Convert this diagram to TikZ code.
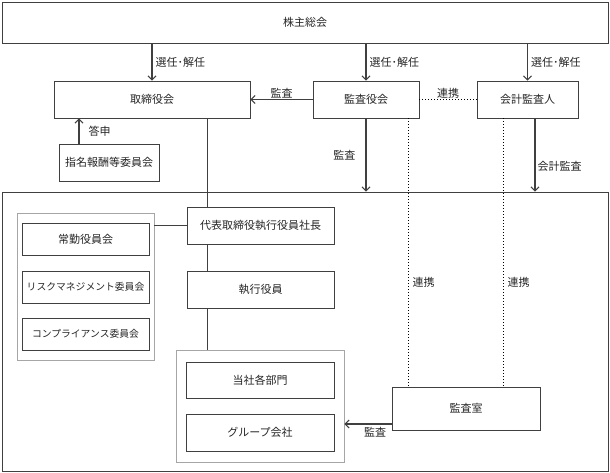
\documentclass[tikz,border=0pt]{standalone}
\usepackage{fontspec}
\setmainfont{Noto Sans CJK JP}
\usetikzlibrary{arrows.meta}
\definecolor{boxc}{HTML}{404040}
\definecolor{grayc}{HTML}{A6A6A6}
\definecolor{txt}{HTML}{262626}
\begin{document}
\begin{tikzpicture}[x=1pt,y=-1pt,
  every node/.style={font=\fontsize{11}{13}\selectfont, text=txt},
  box/.style={draw=boxc, line width=0.8pt, fill=white, inner sep=0pt, minimum height=37pt},
  narrow/.style={font=\fontsize{9.8}{12}\selectfont},
  grp/.style={draw=grayc, line width=0.8pt, inner sep=0pt},
  arr/.style={-{Straight Barb[length=4pt,width=8pt]}, line width=1.1pt, draw=boxc},
  lnk/.style={dotted, line width=1pt, draw=black},
  plain/.style={line width=0.8pt, draw=boxc},
  lbl/.style={inner sep=1pt}]
\useasboundingbox (0,0) rectangle (610,473);
% helper coordinates for line positions
\coordinate (sp) at (207,0);
\coordinate (d1) at (408,0);
\coordinate (d2) at (503,0);
\coordinate (ka) at (535,0);
\coordinate (ts) at (79,0);
% boxes
\node[box, minimum width=606pt, minimum height=41pt] (sh) at (305,22.5) {株主総会};
\node[box, minimum width=196pt] (tori) at (152,99.5) {取締役会};
\node[box, minimum width=106pt] (kansa) at (366,99.5) {監査役会};
\node[box, minimum width=101pt] (kaikei) at (527.5,99.5) {会計監査人};
\node[box, minimum width=100pt] (shimei) at (109,162.5) {指名報酬等委員会};
\node[draw=boxc, line width=0.8pt, inner sep=0pt, minimum width=606pt, minimum height=279pt] (outer) at (305,331.5) {};
\node[grp, minimum width=137pt, minimum height=147pt] (g1) at (85.5,286.5) {};
\node[box, minimum width=127pt, minimum height=32pt] (joukin) at (85.5,239) {常勤役員会};
\node[box, narrow, minimum width=127pt, minimum height=32pt] (risk) at (85.5,287) {リスクマネジメント委員会};
\node[box, narrow, minimum width=127pt, minimum height=32pt] (comp) at (85.5,334) {コンプライアンス委員会};
\node[box, minimum width=147pt] (daihyo) at (260.5,225.5) {代表取締役執行役員社長};
\node[box, minimum width=147pt] (shikkou) at (260.5,289.5) {執行役員};
\node[grp, minimum width=168pt, minimum height=112pt] (g2) at (260,406) {};
\node[box, minimum width=148pt, minimum height=36pt] (tousha) at (260,380) {当社各部門};
\node[box, minimum width=148pt] (group) at (260,432.5) {グループ会社};
\node[box, minimum width=148pt, minimum height=43pt] (shitsu) at (466,408.5) {監査室};
% election arrows
\draw[arr] (sh.south -| tori.north) -- node[right, lbl, xshift=2pt] {選任･解任} (tori.north);
\draw[arr] (sh.south -| kansa.north) -- node[right, lbl, xshift=2pt] {選任･解任} (kansa.north);
\draw[arr] (sh.south -| kaikei.north) -- node[right, lbl, xshift=2pt] {選任･解任} (kaikei.north);
% audit of board
\draw[arr] (kansa.west) -- node[above, lbl] {監査} (tori.east);
\draw[lnk] (kansa.east) -- node[above, lbl] {連携} (kaikei.west);
% report
\draw[arr] (shimei.north -| ts) -- node[right, lbl, xshift=8pt] {答申} (tori.south -| ts);
% spine
\draw[plain] (tori.south -| sp) -- (daihyo.north -| sp);
\draw[plain] (daihyo.south -| sp) -- (shikkou.north -| sp);
\draw[plain] (shikkou.south -| sp) -- (g2.north -| sp);
\draw[plain] (daihyo.west) -- (daihyo.west -| g1.east);
% audits to company
\draw[arr] (kansa.south) -- node[left, lbl, xshift=-9pt] {監査} (kansa.south |- outer.north);
\draw[arr] (kaikei.south -| ka) -- node[right, lbl, pos=0.65, xshift=1pt] {会計監査} (outer.north -| ka);
% cooperation lines
\draw[lnk] (kansa.south -| d1) -- node[right, lbl, pos=0.61, xshift=3pt] {連携} (shitsu.north -| d1);
\draw[lnk] (kaikei.south -| d2) -- node[right, lbl, pos=0.61, xshift=3pt] {連携} (shitsu.north -| d2);
% internal audit
\draw[arr] ([yshift=-15.5pt]shitsu.west) -- node[below, lbl, pos=0.35, yshift=-2pt] {監査} ([yshift=-15.5pt]shitsu.west -| g2.east);
\end{tikzpicture}
\end{document}
